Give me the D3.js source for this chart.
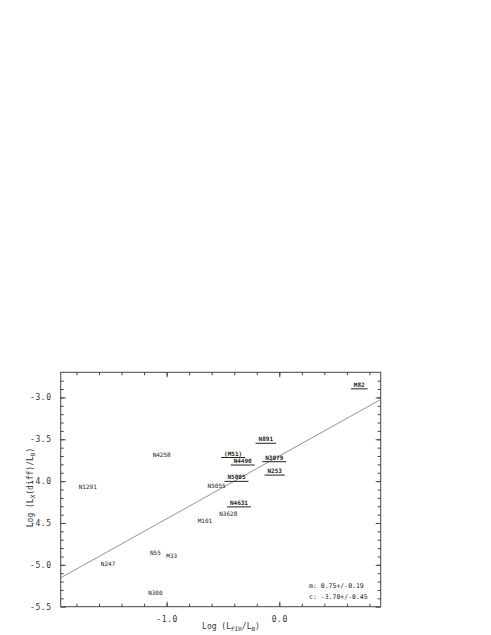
<!DOCTYPE html>
<html>
<head>
<meta charset="utf-8">
<script src="https://cdn.jsdelivr.net/npm/d3@7"></script>
<style>
  html, body { margin: 0; padding: 0; background: #fff; }
  svg { display: block; }
</style>
</head>
<body>
<svg id="chart" width="491" height="635"></svg>
<script>
// ---- data ----
const galaxies = ["M82", "N891", "N3079", "N253", "(M51)", "N4490", "N5005", "N5055", "N4631",
                  "N3628", "M101", "N4258", "N1291", "N55", "M33", "N247", "N300"];
const logFirB  = [0.71, -0.12, -0.045, -0.041, -0.41, -0.325, -0.38, -0.556, -0.358,
                  -0.453, -0.66, -1.044, -1.70, -1.10, -0.955, -1.52, -1.10];
const logLxB   = [-2.85, -3.50, -3.72, -3.88, -3.67, -3.76, -3.955, -4.055, -4.26,
                  -4.39, -4.47, -3.69, -4.07, -4.86, -4.895, -4.99, -5.33];
const underlined = [true, true, true, true, true, true, true, false, true,
                    false, false, false, false, false, false, false, false];
const fitSlope = 0.75, fitIntercept = -3.70;
const fitText = ["m:  0.75+/-0.19", "c:  -3.70+/-0.45"];
const xDomain = [-1.94, 0.90];
const yDomain = [-5.5, -2.7];
const xTickLabels = [-1.0, 0.0];
const xMinorTicks = [-1.8, -1.6, -1.4, -1.2, -1.0, -0.8, -0.6, -0.4, -0.2, 0.0, 0.2, 0.4, 0.6, 0.8];
const yTickLabels = [-3.0, -3.5, -4.0, -4.5, -5.0, -5.5];
const yMinorTicks = [-5.4, -5.3, -5.2, -5.1, -5.0, -4.9, -4.8, -4.7, -4.6, -4.5, -4.4, -4.3, -4.2, -4.1, -4.0,
                     -3.9, -3.8, -3.7, -3.6, -3.5, -3.4, -3.3, -3.2, -3.1, -3.0, -2.9, -2.8];

// ---- layout ----
const L = 60.7, R = 380.7, T = 372.3, B = 606.7;
const svg = d3.select("#chart");
const x = d3.scaleLinear().domain(xDomain).range([L, R]);
const y = d3.scaleLinear().domain(yDomain).range([B, T]);
const axisColor = "#444";
const mono = "'DejaVu Sans Mono', 'Liberation Mono', monospace";
const fmt = d => d.toFixed(1);
const none = () => "";

function styleAxis(g) {
  g.select(".domain").remove();
  g.selectAll(".tick line").attr("stroke", axisColor).attr("stroke-width", 1);
  g.selectAll(".tick text").attr("fill", "#333").attr("font-family", mono)
    .attr("font-size", 8).attr("letter-spacing", 0.6);
}

// minor ticks (inward) on all sides
svg.append("g").attr("transform", `translate(0,${B})`)
  .call(d3.axisBottom(x).tickValues(xMinorTicks).tickSize(-3).tickFormat(none))
  .call(styleAxis);
svg.append("g").attr("transform", `translate(0,${T})`)
  .call(d3.axisTop(x).tickValues(xMinorTicks).tickSize(-3).tickFormat(none))
  .call(styleAxis);
svg.append("g").attr("transform", `translate(${L},0)`)
  .call(d3.axisLeft(y).tickValues(yMinorTicks).tickSize(-3).tickFormat(none))
  .call(styleAxis);
svg.append("g").attr("transform", `translate(${R},0)`)
  .call(d3.axisRight(y).tickValues(yMinorTicks).tickSize(-3).tickFormat(none))
  .call(styleAxis);

// major ticks with labels
svg.append("g").attr("transform", `translate(0,${B})`)
  .call(d3.axisBottom(x).tickValues(xTickLabels).tickSize(-5).tickPadding(10).tickFormat(fmt))
  .call(styleAxis);
svg.append("g").attr("transform", `translate(0,${T})`)
  .call(d3.axisTop(x).tickValues(xTickLabels).tickSize(-5).tickFormat(none))
  .call(styleAxis);
svg.append("g").attr("transform", `translate(${L},0)`)
  .call(d3.axisLeft(y).tickValues(yTickLabels).tickSize(-5).tickPadding(9).tickFormat(fmt))
  .call(styleAxis);
svg.append("g").attr("transform", `translate(${R},0)`)
  .call(d3.axisRight(y).tickValues(yTickLabels).tickSize(-5).tickFormat(none))
  .call(styleAxis);

// frame
svg.append("rect").attr("x", L).attr("y", T).attr("width", R - L).attr("height", B - T)
  .attr("fill", "none").attr("stroke", axisColor).attr("stroke-width", 1);

// fit line
const line = d3.line().x(d => x(d)).y(d => y(fitSlope * d + fitIntercept));
svg.append("path").datum(xDomain).attr("d", line)
  .attr("fill", "none").attr("stroke", "#888").attr("stroke-width", 0.9);

// galaxy labels
const pts = galaxies.map((g, i) => ({ name: g, x: logFirB[i], y: logLxB[i], u: underlined[i] }));
const lab = svg.append("g").selectAll("g").data(pts).join("g")
  .attr("transform", d => `translate(${x(d.x)},${y(d.y)})`);
lab.append("text").text(d => d.name)
  .attr("text-anchor", "middle").attr("dy", "0.35em")
  .attr("font-family", mono).attr("font-size", 6).attr("fill", "#222")
  .attr("font-weight", d => d.u ? "bold" : "normal");
lab.filter(d => d.u).append("line")
  .attr("x1", d => -(d.name.length * 3.6) / 2 - 3)
  .attr("x2", d => (d.name.length * 3.6) / 2 + 3)
  .attr("y1", 4).attr("y2", 4)
  .attr("stroke", "#222").attr("stroke-width", 1);

// fit annotation
svg.append("g").selectAll("text").data(fitText).join("text")
  .attr("x", 309).attr("y", (d, i) => 587.5 + i * 11.5)
  .attr("font-family", mono).attr("font-size", 6.5).attr("fill", "#222")
  .text(d => d);

// axis titles
const xt = svg.append("text").attr("x", 231).attr("y", 629).attr("text-anchor", "middle")
  .attr("font-family", mono).attr("font-size", 8).attr("fill", "#333");
xt.append("tspan").text("Log (L");
xt.append("tspan").text("FIR").attr("font-size", 6).attr("dy", 2);
xt.append("tspan").text("/L").attr("dy", -2);
xt.append("tspan").text("B").attr("font-size", 6).attr("dy", 2);
xt.append("tspan").text(")").attr("dy", -2);

const yt = svg.append("text").attr("transform", "translate(33,487.5) rotate(-90)").attr("text-anchor", "middle")
  .attr("font-family", mono).attr("font-size", 8).attr("fill", "#333");
yt.append("tspan").text("Log (L");
yt.append("tspan").text("X").attr("font-size", 6).attr("dy", 2);
yt.append("tspan").text("(diff)/L").attr("dy", -2);
yt.append("tspan").text("B").attr("font-size", 6).attr("dy", 2);
yt.append("tspan").text(")").attr("dy", -2);
</script>
</body>
</html>
